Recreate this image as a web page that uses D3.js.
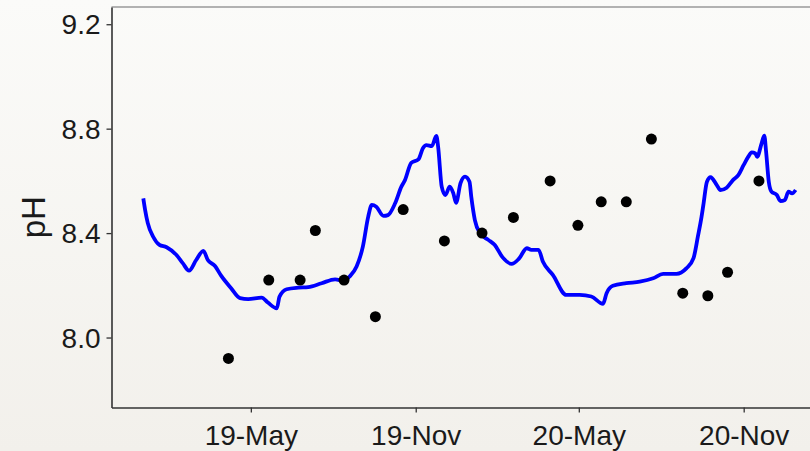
<!DOCTYPE html>
<html>
<head>
<meta charset="utf-8">
<script src="https://cdn.jsdelivr.net/npm/d3@7"></script>
<style>
  html, body { margin: 0; padding: 0; background: #f7f6f2; }
  svg { display: block; }
  text { font-family: "Liberation Sans", Arial, Helvetica, sans-serif; fill: #1a1a1a; }
</style>
</head>
<body>
<svg id="chart" width="810" height="451"></svg>
<script>
// Smoothed pH record (modelled trend)
const trendDates = [
  "2019-01-01","2019-01-03","2019-01-06","2019-01-12","2019-01-19","2019-01-27","2019-02-07","2019-02-14",
  "2019-02-21","2019-03-01","2019-03-09","2019-03-14","2019-03-22","2019-03-29","2019-04-09","2019-04-19",
  "2019-04-28","2019-05-13","2019-05-20","2019-05-30","2019-06-02","2019-06-10","2019-06-23","2019-07-04",
  "2019-07-19","2019-08-03","2019-08-13","2019-08-19","2019-08-27","2019-09-03","2019-09-09","2019-09-13",
  "2019-09-18","2019-09-26","2019-10-01","2019-10-09","2019-10-16","2019-10-20","2019-10-27","2019-11-04",
  "2019-11-09","2019-11-13","2019-11-19","2019-11-24","2019-11-26","2019-11-30","2019-12-04","2019-12-09",
  "2019-12-13","2019-12-16","2019-12-21","2019-12-26","2019-12-31","2020-01-02","2020-01-06","2020-01-12",
  "2020-01-21","2020-01-28","2020-02-06","2020-02-16","2020-02-24","2020-03-04","2020-03-09","2020-03-17",
  "2020-03-22","2020-04-02","2020-04-17","2020-05-02","2020-05-15","2020-05-28","2020-06-01","2020-06-08",
  "2020-06-23","2020-07-08","2020-07-23","2020-08-03","2020-08-18","2020-08-29","2020-09-06","2020-09-11",
  "2020-09-15","2020-09-17","2020-09-21","2020-09-25","2020-10-02","2020-10-06","2020-10-13","2020-10-20",
  "2020-10-26","2020-11-01","2020-11-06","2020-11-10","2020-11-14","2020-11-16","2020-11-21","2020-11-24",
  "2020-11-26","2020-11-29","2020-12-02","2020-12-08","2020-12-12","2020-12-17","2020-12-21","2020-12-25",
  "2020-12-29"
];
const trendPH = [
  8.533, 8.489, 8.438, 8.386, 8.355, 8.346, 8.316, 8.285,
  8.256, 8.297, 8.332, 8.297, 8.274, 8.236, 8.189, 8.151,
  8.147, 8.153, 8.134, 8.112, 8.157, 8.185, 8.191, 8.193,
  8.208, 8.223, 8.217, 8.233, 8.272, 8.348, 8.463, 8.508,
  8.501, 8.466, 8.469, 8.514, 8.578, 8.603, 8.669, 8.682,
  8.725, 8.737, 8.733, 8.772, 8.731, 8.578, 8.546, 8.578,
  8.552, 8.516, 8.591, 8.616, 8.597, 8.539, 8.450, 8.399,
  8.374, 8.355, 8.307, 8.282, 8.301, 8.342, 8.336, 8.336,
  8.290, 8.240, 8.163, 8.163, 8.157, 8.129, 8.170, 8.198,
  8.208, 8.214, 8.227, 8.244, 8.244, 8.265, 8.304, 8.389,
  8.463, 8.508, 8.597, 8.614, 8.584, 8.565, 8.574, 8.603,
  8.622, 8.661, 8.692, 8.709, 8.705, 8.692, 8.744, 8.773,
  8.712, 8.597, 8.559, 8.546, 8.523, 8.527, 8.559, 8.552,
  8.565
];

// Field samples
const sampleDates = [
  "2019-04-06","2019-05-21","2019-06-25","2019-07-12","2019-08-13","2019-09-17","2019-10-18",
  "2019-12-03","2020-01-14","2020-02-18","2020-03-30","2020-04-30","2020-05-26","2020-06-23",
  "2020-07-21","2020-08-25","2020-09-22","2020-10-14","2020-11-18"
];
const samplePH = [
  7.92, 8.22, 8.22, 8.41, 8.22, 8.08, 8.49,
  8.37, 8.40, 8.46, 8.60, 8.43, 8.52, 8.52,
  8.76, 8.17, 8.16, 8.25, 8.60
];

// Axis ticks
const xTickDates = ["2019-05-01","2019-11-01","2020-05-01","2020-11-01"];
const xTickLabels = ["19-May","19-Nov","20-May","20-Nov"];
const yTicks = [8.0, 8.4, 8.8, 9.2];
const yLabel = "pH";

const parse = d3.utcParse("%Y-%m-%d");
const trend = trendDates.map((d, i) => ({ date: parse(d), ph: trendPH[i] }));
const samples = sampleDates.map((d, i) => ({ date: parse(d), ph: samplePH[i] }));

const svg = d3.select("#chart");
const W = 810, H = 451;
const margin = { top: 7, right: 0, bottom: 43.5, left: 111.5 };

// background wash
const defs = svg.append("defs");
const grad = defs.append("linearGradient").attr("id", "bg").attr("x1", 0).attr("y1", 0).attr("x2", 0).attr("y2", 1);
grad.append("stop").attr("offset", "0%").attr("stop-color", "#fbfbf9");
grad.append("stop").attr("offset", "100%").attr("stop-color", "#f2f0eb");
svg.append("rect").attr("width", W).attr("height", H).attr("fill", "url(#bg)");

const x = d3.scaleUtc()
  .domain([new Date(Date.UTC(2018, 10, 26, 12)), new Date(Date.UTC(2021, 0, 14))])
  .range([margin.left, W - margin.right]);
const y = d3.scaleLinear()
  .domain([7.732, 9.266])
  .range([H - margin.bottom, margin.top]);

// top border of the panel
svg.append("line")
  .attr("x1", margin.left).attr("x2", W)
  .attr("y1", margin.top).attr("y2", margin.top)
  .attr("stroke", "#9a9a9a").attr("stroke-width", 1.6);

// axes
const xAxis = d3.axisBottom(x)
  .tickValues(xTickDates.map(parse))
  .tickFormat((d, i) => xTickLabels[i])
  .tickSizeInner(5).tickSizeOuter(0).tickPadding(6);
const yAxis = d3.axisLeft(y)
  .tickValues(yTicks)
  .tickFormat(d3.format(".1f"))
  .tickSizeInner(5).tickSizeOuter(0).tickPadding(6);

const gx = svg.append("g").attr("transform", `translate(0,${H - margin.bottom})`).call(xAxis);
const gy = svg.append("g").attr("transform", `translate(${margin.left},0)`).call(yAxis);

[gx, gy].forEach(g => {
  g.select(".domain").attr("stroke", "#333").attr("stroke-width", 1.6);
  g.selectAll(".tick line").attr("stroke", "#333").attr("stroke-width", 1.3);
  g.selectAll(".tick text")
    .attr("font-size", 28)
    .attr("fill", "#1a1a1a")
    .style("font-family", '"Liberation Sans", Arial, sans-serif');
});
gx.selectAll(".tick text").attr("dy", "0.95em");
gy.selectAll(".tick text").attr("dy", "0.34em");

// axis title
svg.append("text")
  .attr("transform", `translate(45,${(margin.top + H - margin.bottom) / 2 + 10}) rotate(-90)`)
  .attr("text-anchor", "middle")
  .attr("font-size", 33)
  .text(yLabel);

// trend line
const line = d3.line()
  .x(d => x(d.date))
  .y(d => y(d.ph))
  .curve(d3.curveMonotoneX);

svg.append("path")
  .datum(trend)
  .attr("d", line)
  .attr("fill", "none")
  .attr("stroke", "#0000ff")
  .attr("stroke-width", 3.8)
  .attr("stroke-linejoin", "round")
  .attr("stroke-linecap", "butt");

// samples
svg.append("g")
  .selectAll("circle")
  .data(samples)
  .join("circle")
  .attr("cx", d => x(d.date))
  .attr("cy", d => y(d.ph))
  .attr("r", 5.5)
  .attr("fill", "#000");
</script>
</body>
</html>
